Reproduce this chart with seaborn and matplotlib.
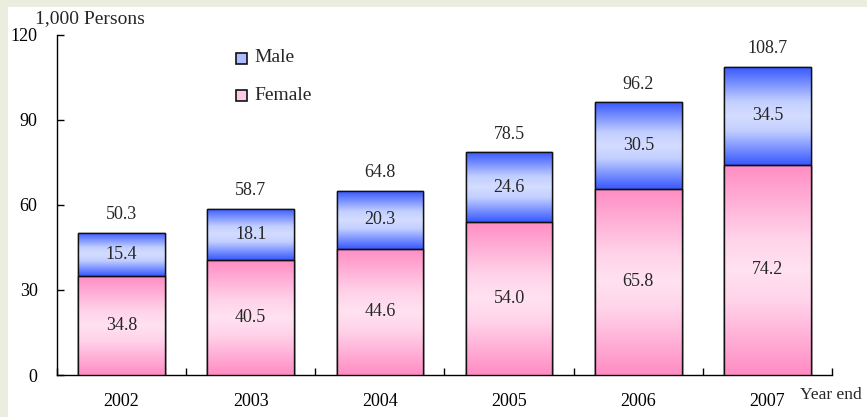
import matplotlib
matplotlib.use("Agg")
import matplotlib.pyplot as plt
import numpy as np
import pandas as pd
import seaborn as sns
from matplotlib.colors import LinearSegmentedColormap
from matplotlib.patches import Rectangle

years = ["2002", "2003", "2004", "2005", "2006", "2007"]
female = [34.8, 40.5, 44.6, 54.0, 65.8, 74.2]
male = [15.4, 18.1, 20.3, 24.6, 30.5, 34.5]
totals = [50.3, 58.7, 64.8, 78.5, 96.2, 108.7]
yticks = [0, 30, 60, 90, 120]

sns.set_theme(style="white")
plt.rcParams["font.family"] = ["Liberation Serif", "DejaVu Serif"]
FS = 13

df = pd.DataFrame({"year": years, "female": female, "male": male})
df["total"] = df["female"] + df["male"]

fig = plt.figure(figsize=(8.67, 4.17), dpi=100)
fig.patch.set_facecolor("#ebeddf")
fig.patches.append(Rectangle((8 / 867, 0), 1, 1 - 7 / 417, transform=fig.transFigure,
                             facecolor="white", edgecolor="none", zorder=-5))
ax = fig.add_axes([57 / 867, 42 / 417, 775 / 867, 340 / 417])
ax.set_facecolor("none")

# stacked bars: total first (male on top), then female over it
sns.barplot(data=df, x="year", y="total", color="#5577ff", width=0.67,
            edgecolor="#111111", linewidth=1, ax=ax)
sns.barplot(data=df, x="year", y="female", color="#ff99cc", width=0.67,
            edgecolor="#111111", linewidth=1, ax=ax)

pink = LinearSegmentedColormap.from_list(
    "pink", [(0, "#ff8cc4"), (0.35, "#ffd3e9"), (0.5, "#ffe2f1"), (0.65, "#ffd3e9"), (1, "#ff8cc4")])
blue = LinearSegmentedColormap.from_list(
    "blue", [(0, "#3858ff"), (0.35, "#c2cfff"), (0.5, "#d4ddff"), (0.65, "#c2cfff"), (1, "#3858ff")])
grad = np.linspace(0, 1, 256).reshape(-1, 1)

n = len(years)
for i, p in enumerate(list(ax.patches)):
    x0, w = p.get_x(), p.get_width()
    y0, h = p.get_y(), p.get_height()
    if i < n:
        y0, h = female[i], male[i]
        cmap = blue
    else:
        cmap = pink
    im = ax.imshow(grad, cmap=cmap, aspect="auto", extent=(x0, x0 + w, y0, y0 + h),
                   zorder=3, interpolation="bicubic")
    im.set_clip_path(p)
    ax.add_patch(Rectangle((x0, y0), w, h, fill=False, edgecolor="#111111",
                           linewidth=1, zorder=3.5))

for i in range(n):
    ax.text(i, female[i] / 2, f"{female[i]:.1f}", ha="center", va="center", fontsize=FS, zorder=5)
    ax.text(i, female[i] + male[i] / 2, f"{male[i]:.1f}", ha="center", va="center", fontsize=FS, zorder=5)
    ax.text(i, totals[i] + 3.5, f"{totals[i]:.1f}", ha="center", va="bottom", fontsize=FS, zorder=5)

ax.set_xlim(-0.5, n - 0.5)
ax.set_ylim(0, 120)
ax.set_yticks(yticks)
ax.set_xlabel("")
ax.set_ylabel("")
ax.set_xticks(range(n))
ax.set_xticklabels(years)
ax.set_xticks(np.arange(-0.5, n, 1), minor=True)
ax.tick_params(axis="x", which="major", length=0, pad=13, labelsize=FS, colors="black")
ax.tick_params(axis="x", which="minor", direction="in", length=5, width=1, color="black", bottom=True)
ax.tick_params(axis="y", direction="in", length=5, width=1, color="black", left=True, pad=14,
               labelsize=FS, labelcolor="black")
for s in ["top", "right"]:
    ax.spines[s].set_visible(False)
for s in ["left", "bottom"]:
    ax.spines[s].set_color("black")
    ax.spines[s].set_linewidth(1)
ax.grid(False)

fig.text(35 / 867, 1 - 19 / 417, "1,000 Persons", ha="left", va="center", fontsize=FS + 1)
fig.text(862 / 867, 1 - 395 / 417, "Year end", ha="right", va="center", fontsize=FS - 0.5)

# legend
for label, ypos, c in [("Male", 58, blue), ("Female", 95, pink)]:
    fig.patches.append(Rectangle((236 / 867, 1 - (ypos + 6) / 417), 11 / 867, 11 / 417,
                                 transform=fig.transFigure, facecolor=c(0.3),
                                 edgecolor="#111111", linewidth=1.2, zorder=5))
    fig.text(254 / 867, 1 - ypos / 417, label, ha="left", va="center", fontsize=FS + 1)

fig.savefig("out.png", dpi=100)
